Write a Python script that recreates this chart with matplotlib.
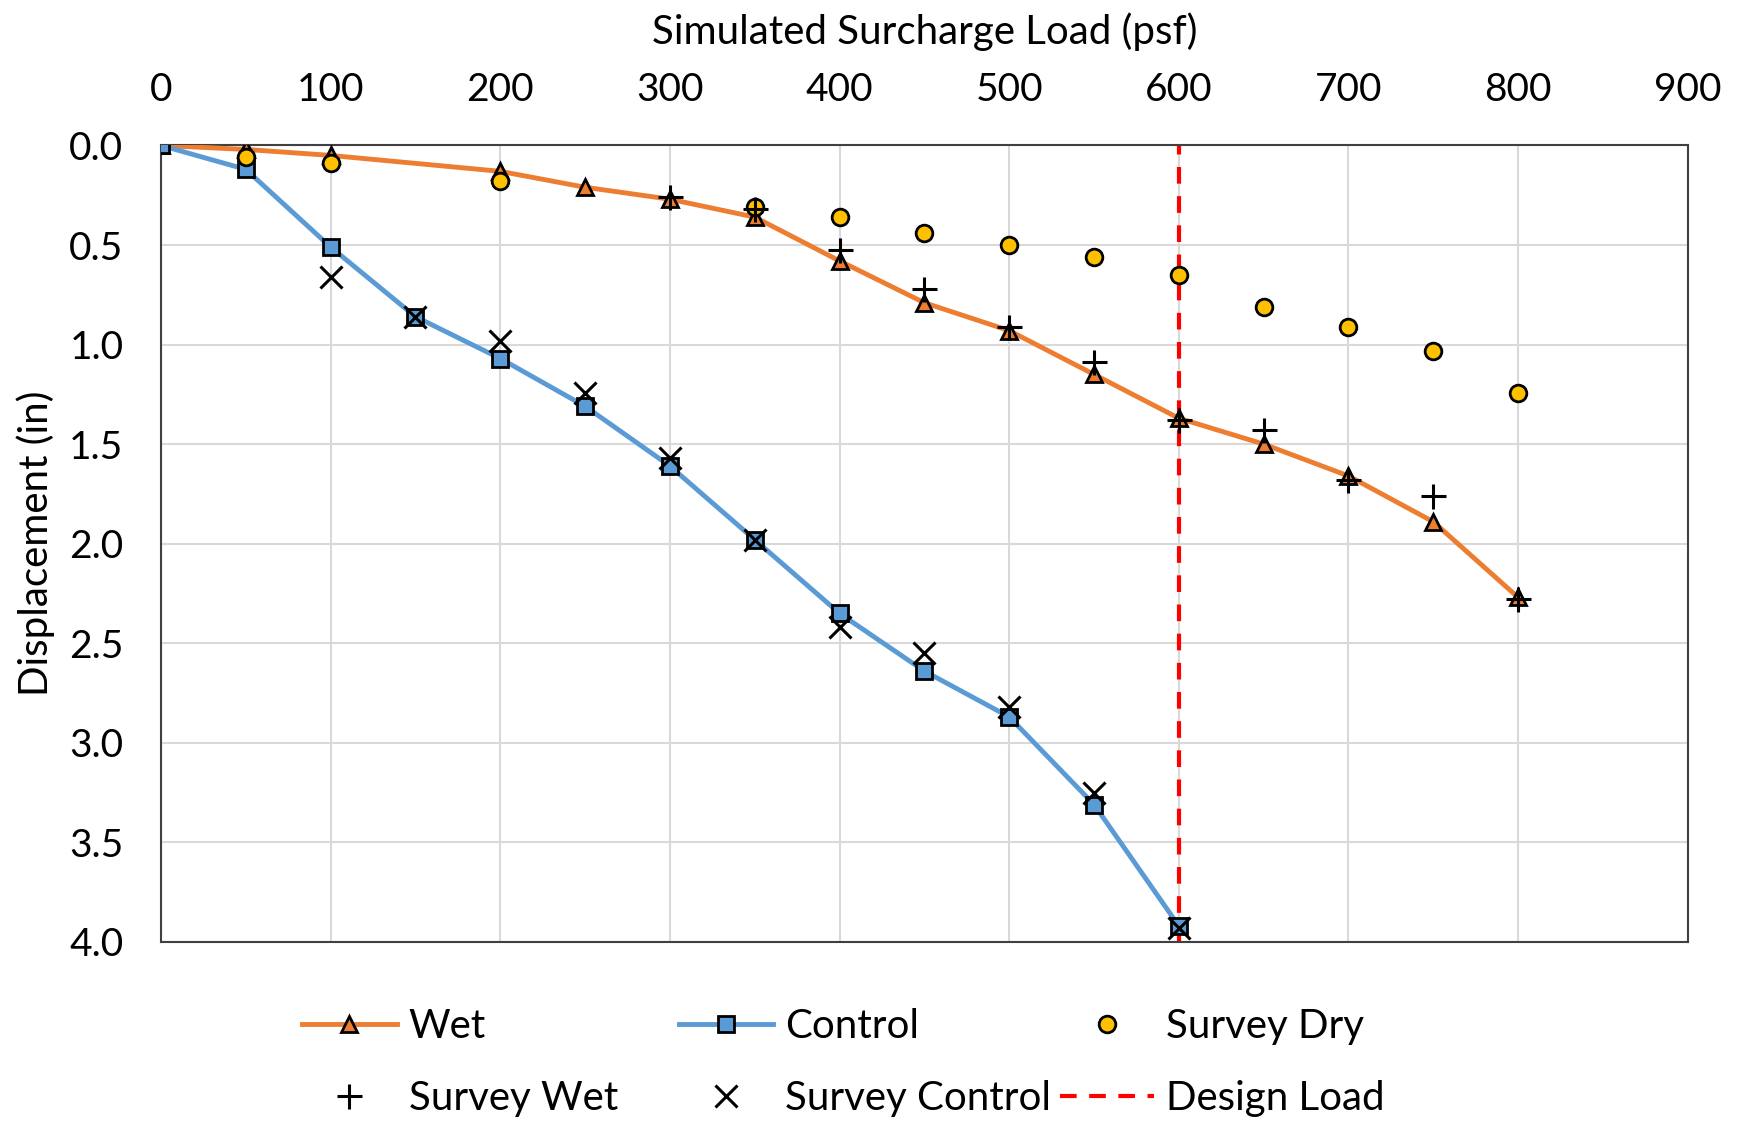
import matplotlib.pyplot as plt
from matplotlib.lines import Line2D

plt.rcParams["font.family"] = ["Lato", "DejaVu Sans"]

# loads (psf) and displacements (in)
wet_load = [0, 50, 100, 200, 250, 300, 350, 400, 450, 500, 550, 600, 650, 700, 750, 800]
wet_disp = [0.0, 0.02, 0.05, 0.13, 0.21, 0.27, 0.36, 0.58, 0.79, 0.93, 1.15, 1.37, 1.50, 1.66, 1.89, 2.27]

control_load = [0, 50, 100, 150, 200, 250, 300, 350, 400, 450, 500, 550, 600]
control_disp = [0.0, 0.12, 0.51, 0.86, 1.07, 1.31, 1.61, 1.98, 2.35, 2.64, 2.87, 3.31, 3.92]

dry_load = [50, 100, 200, 350, 400, 450, 500, 550, 600, 650, 700, 750, 800]
dry_disp = [0.06, 0.09, 0.18, 0.31, 0.36, 0.44, 0.50, 0.56, 0.65, 0.81, 0.91, 1.03, 1.245]

survey_wet_load = [300, 350, 400, 450, 500, 550, 600, 650, 700, 750, 800]
survey_wet_disp = [0.26, 0.32, 0.525, 0.72, 0.91, 1.09, 1.38, 1.43, 1.68, 1.76, 2.28]

survey_control_load = [100, 150, 200, 250, 300, 350, 400, 450, 500, 550, 600]
survey_control_disp = [0.66, 0.86, 0.98, 1.245, 1.57, 1.98, 2.42, 2.55, 2.82, 3.25, 3.93]

design_load = 600

ORANGE = "#ED7D31"
BLUE = "#5B9BD5"
GOLD = "#FFC000"
RED = "#FF0000"
DASH = (0, (4, 3))

wet_style = dict(color=ORANGE, linewidth=3.5, marker="^", markersize=12,
                 markerfacecolor=ORANGE, markeredgecolor="black", markeredgewidth=2)
control_style = dict(color=BLUE, linewidth=3.5, marker="s", markersize=11,
                     markerfacecolor=BLUE, markeredgecolor="black", markeredgewidth=2)
dry_style = dict(linestyle="none", marker="o", markersize=12,
                 markerfacecolor=GOLD, markeredgecolor="black", markeredgewidth=2)
plus_style = dict(linestyle="none", marker="+", markersize=18, color="black", markeredgewidth=2.2)
cross_style = dict(linestyle="none", marker="x", markersize=16, color="black", markeredgewidth=2.2)

fig = plt.figure(figsize=(17.4, 11.24), dpi=100)
ax = fig.add_axes([0.0925, 0.162, 0.8775, 0.7086])

ax.axvline(design_load, color=RED, linestyle=DASH, linewidth=3, zorder=2)
ax.plot(wet_load, wet_disp, zorder=3, **wet_style)
ax.plot(control_load, control_disp, zorder=3, **control_style)
ax.plot(dry_load, dry_disp, zorder=4, **dry_style)
ax.plot(survey_wet_load, survey_wet_disp, zorder=5, **plus_style)
ax.plot(survey_control_load, survey_control_disp, zorder=5, **cross_style)

ax.set_xlim(0, 900)
ax.set_ylim(4, 0)
ax.set_xticks(range(0, 1000, 100))
ax.set_yticks([0, 0.5, 1.0, 1.5, 2.0, 2.5, 3.0, 3.5, 4.0])
ax.set_yticklabels([f"{v:.1f}" for v in ax.get_yticks()])

ax.xaxis.tick_top()
ax.xaxis.set_label_position("top")
ax.tick_params(axis="both", length=0, labelsize=28)
ax.tick_params(axis="x", pad=27)
ax.tick_params(axis="y", pad=27)
ax.set_xlabel("Simulated Surcharge Load (psf)", fontsize=29, labelpad=20)
ax.set_ylabel("Displacement (in)", fontsize=29, labelpad=10)

ax.grid(True, color="#D9D9D9", linewidth=1.5)
ax.set_axisbelow(True)
for spine in ax.spines.values():
    spine.set_color("#404040")
    spine.set_linewidth(1.5)

# legend laid out as three columns, two rows each
columns = [
    ([Line2D([], [], **wet_style), Line2D([], [], **plus_style)], ["Wet", "Survey Wet"], 0.1735),
    ([Line2D([], [], **control_style), Line2D([], [], **cross_style)], ["Control", "Survey Control"], 0.390),
    ([Line2D([], [], **dry_style), Line2D([], [], color=RED, linestyle=DASH, linewidth=3)],
     ["Survey Dry", "Design Load"], 0.609),
]
for handles, labels, x0 in columns:
    fig.legend(handles, labels, loc="center left", bbox_to_anchor=(x0, 0.0547),
               frameon=False, fontsize=29, handlelength=2.35, handletextpad=0.3,
               labelspacing=0.88, borderpad=0, borderaxespad=0)

fig.savefig("out.png", dpi=100)
